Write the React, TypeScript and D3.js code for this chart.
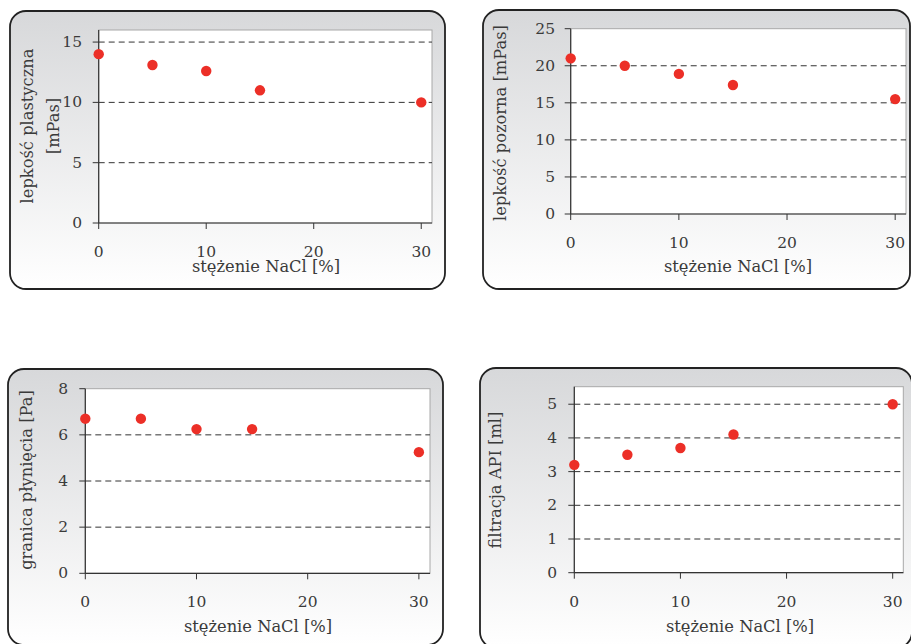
import React from "react";
import * as d3 from "d3";

const nacl = [0, 5, 10, 15, 30];
const plasticViscosity = [14, 13.1, 12.6, 11, 10];
const apparentViscosity = [21, 20, 18.9, 17.4, 15.5];
const yieldPoint = [6.7, 6.7, 6.25, 6.25, 5.25];
const apiFiltration = [3.2, 3.5, 3.7, 4.1, 5.0];

const xTicks = [0, 10, 20, 30];
const yTicks1 = [0, 5, 10, 15];
const yTicks2 = [0, 5, 10, 15, 20, 25];
const yTicks3 = [0, 2, 4, 6, 8];
const yTicks4 = [0, 1, 2, 3, 4, 5];

const xTitle = "stężenie NaCl [%]";

type PanelCfg = {
  frame: [number, number, number, number];
  plot: [number, number, number, number]; // left, top, right, bottom
  yMax: number;
  values: number[];
  yTicks: number[];
  yTitle: string[];
  yTitleX: number[];
  yTitleY: number;
  xTitleX: number;
  xTitleY: number;
  tickLabelRight: number;
};

const panels: PanelCfg[] = [
  {
    frame: [10, 11, 445, 289],
    plot: [98.7, 30, 432, 223],
    yMax: 16,
    values: plasticViscosity,
    yTicks: yTicks1,
    yTitle: ["lepkość plastyczna", "[mPas]"],
    yTitleX: [27, 53],
    yTitleY: 126,
    xTitleX: 266,
    xTitleY: 266.5,
    tickLabelRight: 82,
  },
  {
    frame: [483, 10, 910, 289],
    plot: [570.7, 28.7, 906, 214],
    yMax: 25,
    values: apparentViscosity,
    yTicks: yTicks2,
    yTitle: ["lepkość pozorna [mPas]"],
    yTitleX: [500],
    yTitleY: 123,
    xTitleX: 738,
    xTitleY: 266.5,
    tickLabelRight: 555,
  },
  {
    frame: [8, 369, 443, 645],
    plot: [85.3, 388.7, 430, 573.3],
    yMax: 8,
    values: yieldPoint,
    yTicks: yTicks3,
    yTitle: ["granica płynięcia [Pa]"],
    yTitleX: [26.5],
    yTitleY: 480,
    xTitleX: 258,
    xTitleY: 626.5,
    tickLabelRight: 68,
  },
  {
    frame: [480, 368, 912, 648],
    plot: [574.3, 386.7, 903.3, 572.7],
    yMax: 5.52,
    values: apiFiltration,
    yTicks: yTicks4,
    yTitle: ["filtracja API [ml]"],
    yTitleX: [495],
    yTitleY: 480,
    xTitleX: 740,
    xTitleY: 626.5,
    tickLabelRight: 557,
  },
];

const FONT = "'DejaVu Serif', serif";
const TXT = "#3a3a3a";

function Panel({ cfg, idx }: { cfg: PanelCfg; idx: number }) {
  const [fx0, fy0, fx1, fy1] = cfg.frame;
  const [l, t, r, b] = cfg.plot;
  const x = d3.scaleLinear().domain([0, 31]).range([l, r]);
  const y = d3.scaleLinear().domain([0, cfg.yMax]).range([b, t]);
  return (
    <g>
      <defs>
        <linearGradient id={`bg${idx}`} x1="0" y1="0" x2="0" y2="1">
          <stop offset="0" stopColor="#d7d8da" />
          <stop offset="1" stopColor="#ffffff" />
        </linearGradient>
      </defs>
      <rect
        x={fx0}
        y={fy0}
        width={fx1 - fx0}
        height={fy1 - fy0}
        rx={16}
        ry={16}
        fill={`url(#bg${idx})`}
        stroke="#222"
        strokeWidth={1.8}
      />
      <rect x={l} y={t} width={r - l} height={b - t} fill="#fff" stroke="#a8a8a8" strokeWidth={1} />
      {cfg.yTicks
        .filter((v) => v > 0 && y(v) > t + 1)
        .map((v) => (
          <line
            key={`g${v}`}
            x1={l}
            x2={r}
            y1={y(v)}
            y2={y(v)}
            stroke="#333"
            strokeWidth={1}
            strokeDasharray="6,4"
          />
        ))}
      <line x1={l} x2={l} y1={t} y2={b} stroke="#333" strokeWidth={1.2} />
      <line x1={l} x2={r} y1={b} y2={b} stroke="#333" strokeWidth={1.2} />
      {cfg.yTicks.map((v) => (
        <g key={`yt${v}`}>
          <line x1={l - 6} x2={l} y1={y(v)} y2={y(v)} stroke="#333" strokeWidth={1} />
          <text
            x={cfg.tickLabelRight}
            y={y(v)}
            textAnchor="end"
            dominantBaseline="central"
            fontFamily={FONT}
            fontSize={15.5}
            fill={TXT}
          >
            {v}
          </text>
        </g>
      ))}
      {xTicks.map((v) => (
        <g key={`xt${v}`}>
          <line x1={x(v)} x2={x(v)} y1={b} y2={b + 6} stroke="#333" strokeWidth={1} />
          <text
            x={x(v)}
            y={b + 29}
            textAnchor="middle"
            dominantBaseline="central"
            fontFamily={FONT}
            fontSize={15.5}
            fill={TXT}
          >
            {v}
          </text>
        </g>
      ))}
      <text
        x={cfg.xTitleX}
        y={cfg.xTitleY}
        textAnchor="middle"
        dominantBaseline="central"
        fontFamily={FONT}
        fontSize={16.3}
        fill={TXT}
      >
        {xTitle}
      </text>
      {cfg.yTitle.map((s, i) => (
        <text
          key={`ytl${i}`}
          transform={`translate(${cfg.yTitleX[i]},${cfg.yTitleY}) rotate(-90)`}
          textAnchor="middle"
          dominantBaseline="central"
          fontFamily={FONT}
          fontSize={16.3}
          fill={TXT}
        >
          {s}
        </text>
      ))}
      {cfg.values.map((v, i) => (
        <circle key={`p${i}`} cx={x(nacl[i])} cy={y(v)} r={5.2} fill="#ec2f27" />
      ))}
    </g>
  );
}

export default function App() {
  return (
    <svg
      width={911}
      height={644}
      style={{ position: "absolute", left: 0, top: 0, display: "block", background: "#fff" }}
    >
      {panels.map((p, i) => (
        <Panel key={i} cfg={p} idx={i} />
      ))}
    </svg>
  );
}
